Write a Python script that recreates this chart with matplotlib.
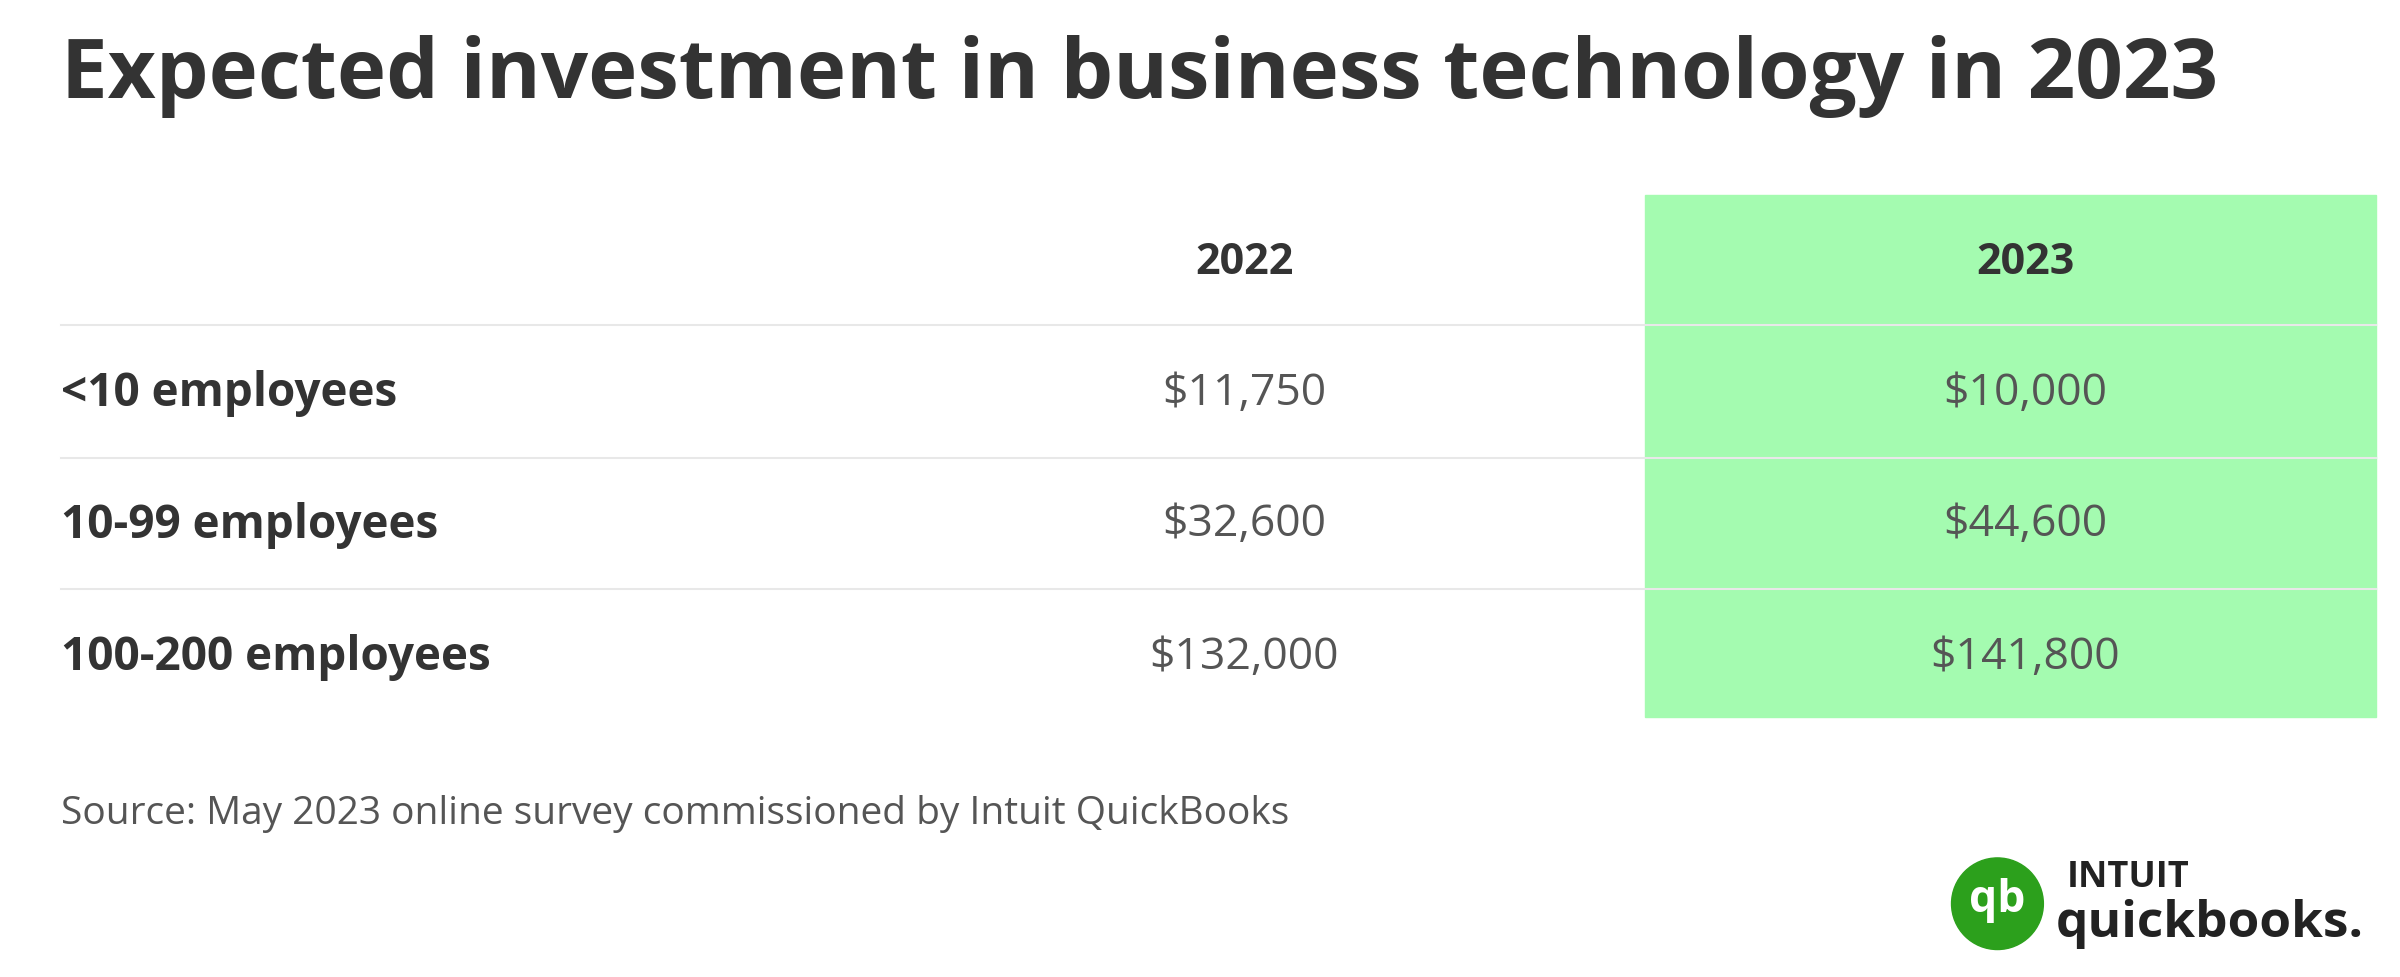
import matplotlib
matplotlib.use('Agg')
import matplotlib.pyplot as plt
from matplotlib.patches import Rectangle, Circle

title = "Expected investment in business technology in 2023"
years = ["2022", "2023"]
rows = ["<10 employees", "10-99 employees", "100-200 employees"]
vals_2022 = [11750, 32600, 132000]
vals_2023 = [10000, 44600, 141800]
source = "Source: May 2023 online survey commissioned by Intuit QuickBooks"

plt.rcParams['font.family'] = ['Open Sans', 'DejaVu Sans']
W, H = 1568, 640
fig = plt.figure(figsize=(24, 9.77), dpi=100)
ax = fig.add_axes([0, 0, 1, 1])
ax.set_xlim(0, W)
ax.set_ylim(H, 0)
ax.axis('off')

dark = '#333333'
grey = '#555555'

ax.text(40, 50, title, fontsize=60, fontweight='bold', color=dark, va='center', ha='left')

# highlight column
ax.add_patch(Rectangle((1075, 128), 477, 342, color='#a4fbb0', zorder=0))

col_x = [813, 1323]
for x, y in zip(col_x, years):
    ax.text(x, 172, y, fontsize=31, fontweight='bold', color=dark, ha='center', va='center')

for ly in [213, 300, 386]:
    ax.plot([40, 1552], [ly, ly], color='#e8e8e8', lw=1.5, zorder=1)

row_y = [258, 344, 431]
for y, r, a, b in zip(row_y, rows, vals_2022, vals_2023):
    ax.text(40, y, r, fontsize=33, fontweight='bold', color=dark, ha='left', va='center')
    ax.text(col_x[0], y, f"${a:,}", fontsize=32, color=grey, ha='center', va='center')
    ax.text(col_x[1], y, f"${b:,}", fontsize=32, color=grey, ha='center', va='center')

ax.text(40, 533, source, fontsize=28, color=grey, ha='left', va='center')

# logo
ax.add_patch(Circle((1305, 592), 30, color='#2ca01c', zorder=2))
ax.text(1305, 590, "qb", fontsize=32, fontweight='bold', color='white', ha='center', va='center', zorder=3)
ax.text(1350, 575, "INTUIT", fontsize=26, fontweight='bold', color='#222222', ha='left', va='center')
ax.text(1343, 605, "quickbooks.", fontsize=37, fontweight='bold', color='#222222', ha='left', va='center')

fig.savefig('out.png', dpi=100, facecolor='white')
